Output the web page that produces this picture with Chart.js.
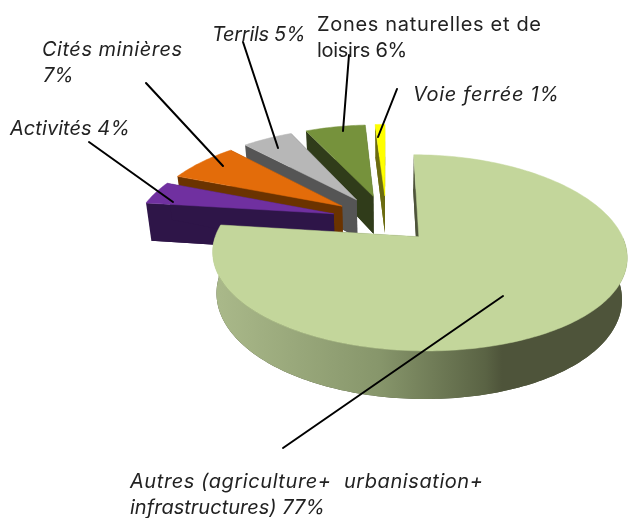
<!DOCTYPE html>
<html><head><meta charset="utf-8">
<style>html,body{margin:0;padding:0;background:#fff}#w{width:628px;height:518px}</style>
<script src="https://cdn.jsdelivr.net/npm/chart.js@4"></script>
</head><body><div id="w"><canvas id="c" width="628" height="518"></canvas></div>
<script>
const categories=["Autres (agriculture+ urbanisation+ infrastructures)","Activités","Cités minières","Terrils","Zones naturelles et de loisirs","Voie ferrée"];
const values=[77,4,7,5,6,1];
const topColors=["#c3d69b","#7030a0","#e36c0a","#b7b7b7","#76923c","#ffff00"];
const sideColors=["#4e543a","#2e1548","#6b3300","#555555","#303c1a","#6b6b10"];
const explode=[0.24,0.28,0.28,0.28,0.28,0.28];
// painter's order: right to left, big slice last
const paintOrder=[5,4,3,2,1,0];
const textRows=[
 {t:"Zones naturelles et de",x:317,y:31,w:224,i:false},
 {t:"loisirs 6%",x:317,y:57,w:83,i:false},
 {t:"Terrils 5%",x:212,y:41,w:85,i:true},
 {t:"Cités minières",x:42,y:56,w:140,i:true},
 {t:"7%",x:43,y:82,w:26,i:true},
 {t:"Activités 4%",x:10,y:135,w:120,i:true},
 {t:"Voie ferrée 1%",x:413,y:101,w:146,i:true},
 {t:"Autres (agriculture+  urbanisation+",x:130,y:488,w:353,i:true},
 {t:"infrastructures) 77%",x:130,y:514,w:195,i:true}
];
const leaders=[[89,142,173,202],[146,83,223,166],[243,42,278,148],[349,55,343,131],[397,89,378,137],[503,296,283,448]];
const CX=386.5, CY=220, AX=197, BY=90, PX=0.18, PY=0.16, DEPTH=39, SHRINK=0.978;
function proj(U,V,z){
  let x=CX+AX*U/(1-PX*V), y=CY+BY*V/(1-PY*V);
  if(z){x=CX+(x-CX)*SHRINK; y+=DEPTH/(1-PY*V);}
  return [x,y];
}
function poly(ctx,pts,fill,edge){
  ctx.beginPath();pts.forEach((p,i)=>i?ctx.lineTo(p[0],p[1]):ctx.moveTo(p[0],p[1]));ctx.closePath();
  ctx.fillStyle=fill;ctx.fill();
  if(edge){ctx.strokeStyle=fill;ctx.lineWidth=0.5;ctx.stroke();}
}
function drawSlice(ctx,arc,i){
  const a0=arc.startAngle,a1=arc.endAngle,mid=(a0+a1)/2;
  const ou=explode[i]*Math.cos(mid),ov=explode[i]*Math.sin(mid);
  const n=Math.max(4,Math.ceil((a1-a0)/0.02));
  const rim=[],front=[];
  for(let k=0;k<=n;k++){
    const t=a0+(a1-a0)*k/n,q=[ou+Math.cos(t),ov+Math.sin(t)];
    rim.push(q);
    if(Math.sin(t)>=0) front.push(q);
  }
  const P=(q,z)=>proj(q[0],q[1],z), apex=[ou,ov];
  const side=sideColors[i];
  poly(ctx,[P(apex,1),...rim.map(q=>P(q,1))],side);
  poly(ctx,[P(apex,0),P(rim[0],0),P(rim[0],1),P(apex,1)],side);
  poly(ctx,[P(apex,0),P(rim[n],0),P(rim[n],1),P(apex,1)],side);
  if(front.length>1){
    const g=ctx.createLinearGradient(215,0,625,0);
    g.addColorStop(0,"#aab98a");g.addColorStop(0.4,"#87966b");g.addColorStop(0.66,"#5a6344");g.addColorStop(0.7,"#4e543a");g.addColorStop(1,"#4e543a");
    poly(ctx,[...front.map(q=>P(q,0)),...front.slice().reverse().map(q=>P(q,1))],g);
  }
  poly(ctx,[P(apex,0),...rim.map(q=>P(q,0))],topColors[i],true);
}
const pie3d={id:"pie3d",
  beforeDatasetDraw(chart,args){
    const arcs=chart.getDatasetMeta(args.index).data,ctx=chart.ctx;
    ctx.save();paintOrder.forEach(i=>drawSlice(ctx,arcs[i],i));ctx.restore();
    return false;
  },
  afterDraw(chart){
    const ctx=chart.ctx;ctx.save();
    ctx.strokeStyle="#000";ctx.lineWidth=2;ctx.lineCap="round";
    leaders.forEach(l=>{ctx.beginPath();ctx.moveTo(l[0],l[1]);ctx.lineTo(l[2],l[3]);ctx.stroke();});
    ctx.fillStyle="#222";ctx.textBaseline="alphabetic";ctx.textAlign="left";
    textRows.forEach(r=>{
      ctx.font=(r.i?"italic ":"")+"20px Inter";
      ctx.letterSpacing="0px";
      const w=ctx.measureText(r.t).width;
      const sp=Math.max(-0.3,(r.w-w)/Math.max(1,r.t.length-1));
      ctx.letterSpacing=sp.toFixed(3)+"px";
      ctx.fillText(r.t,r.x,r.y);
    });
    ctx.restore();
  }
};
new Chart(document.getElementById("c"),{
  type:"pie",
  data:{labels:categories,datasets:[{data:values,backgroundColor:topColors,borderWidth:0,offset:55}]},
  options:{responsive:false,animation:false,rotation:0,events:[],layout:{padding:0},
    plugins:{legend:{display:false},tooltip:{enabled:false},title:{display:false}}},
  plugins:[pie3d]
});
</script></body></html>
